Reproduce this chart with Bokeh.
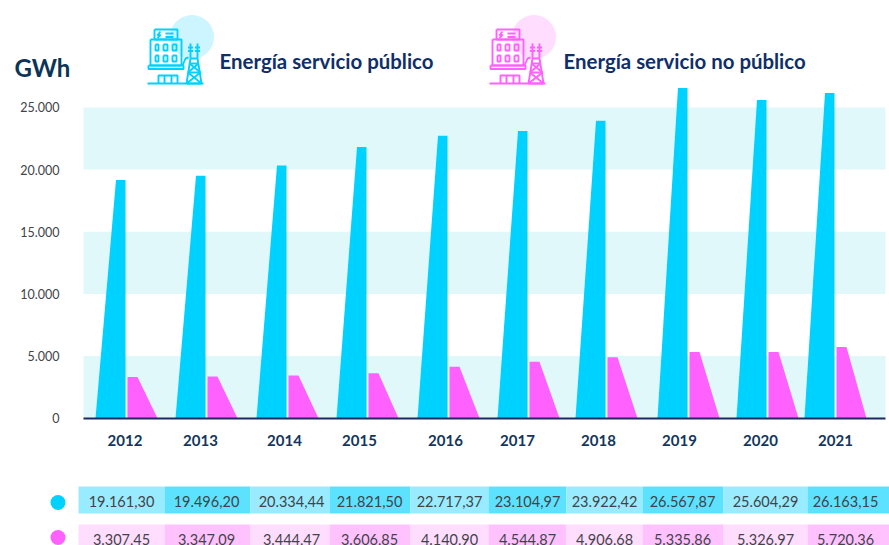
from bokeh.plotting import figure
from bokeh.embed import file_html
from bokeh.resources import INLINE
from bokeh.models import Range1d, LinearAxis, FixedTicker
from bokeh.core.properties import value

years = ["2012","2013","2014","2015","2016","2017","2018","2019","2020","2021"]
publico_txt = ["19.161,30","19.496,20","20.334,44","21.821,50","22.717,37","23.104,97","23.922,42","26.567,87","25.604,29","26.163,15"]
no_publico_txt = ["3.307,45","3.347,09","3.444,47","3.606,85","4.140,90","4.544,87","4.906,68","5.335,86","5.326,97","5.720,36"]
publico = [19161.30,19496.20,20334.44,21821.50,22717.37,23104.97,23922.42,26567.87,25604.29,26163.15]
no_publico = [3307.45,3347.09,3444.47,3606.85,4140.90,4544.87,4906.68,5335.86,5326.97,5720.36]
y_ticks = [0,5000,10000,15000,20000,25000]
y_labels = ["0","5.000","10.000","15.000","20.000","25.000"]

# layout (page pixels)
bar_split = [126,206,287,367,448,528,606,688,767,835]
label_x = [124.5,200,284,359,445,517,598,679,760,835]
cell_edges = [78,164,250,329,410,488,566,642,723,807,889]
cell_text_x = [121,206,291,369,449,527,604,682,765,845]

BLUE="#00D2FF"; PINK="#FF61FF"; BAND="#E1F8FB"; NAVY="#0F2F6B"; GREY="#3F4448"
FONT="Lato"

W,H=889,545
Y0=417.7; K=0.01243
p = figure(width=W,height=H,output_backend="svg",toolbar_location=None,
           x_range=Range1d(0,889),
           y_range=Range1d((Y0-545)/K,(Y0-0)/K),
           min_border=0,min_border_left=0,min_border_right=0,min_border_top=0,min_border_bottom=0,
           x_axis_type=None,y_axis_type=None,outline_line_color=None)
p.xgrid.visible=False; p.ygrid.visible=False
p.extra_y_ranges={"px":Range1d(545,0)}

# bands
p.quad(left=83,right=885,bottom=y_ticks[0],top=y_ticks[1],fill_color=BAND,line_color=None)
p.quad(left=83,right=885,bottom=y_ticks[2],top=y_ticks[3],fill_color=BAND,line_color=None)
p.quad(left=83,right=885,bottom=y_ticks[4],top=y_ticks[5],fill_color=BAND,line_color=None)

# bars (trapezoids)
bx=[[s-31,s-10.5,s-1,s-1] for s in bar_split]
by=[[0,v,v,0] for v in publico]
p.patches(bx,by,fill_color=BLUE,line_color=None)
px_=[[s+1,s+1,s+11,s+31] for s in bar_split]
py=[[0,v,v,0] for v in no_publico]
p.patches(px_,py,fill_color=PINK,line_color=None)

# axes
ya=LinearAxis(ticker=FixedTicker(ticks=y_ticks),major_label_overrides=dict(zip(y_ticks,y_labels)),
              axis_line_color=None,major_tick_line_color=None,minor_tick_line_color=None,
              major_label_text_font=FONT,major_label_text_font_size="12.5px",major_label_text_color=GREY,
              major_label_standoff=0,fixed_location=65)
p.add_layout(ya,"left")
xa=LinearAxis(ticker=FixedTicker(ticks=label_x),major_label_overrides=dict(zip(label_x,years)),
              axis_line_color="#1B2A63",axis_line_width=2,major_tick_line_color=None,minor_tick_line_color=None,
              major_label_text_font=FONT,major_label_text_font_style="bold",major_label_text_font_size="15px",
              major_label_text_color="#14365C",major_label_standoff=11,fixed_location=0,bounds=(83,885))
p.add_layout(xa,"below")

# table
rows=[(486,513,publico_txt,["#99EBFF","#5CE1FF"],500.5),(524,550,no_publico_txt,["#FFDDFF","#FFC2FF"],539)]
for top,bot,txt,cols,cy in rows:
    p.quad(left=cell_edges[:-1],right=cell_edges[1:],top=top,bottom=bot,y_range_name="px",
           fill_color=[cols[i%2] for i in range(10)],line_color=None)
    p.text(x=cell_text_x,y=[cy]*10,text=txt,y_range_name="px",text_align="center",text_baseline="middle",
           text_font=value(FONT),text_font_size="14.5px",text_color=GREY)
p.scatter(x=[57.5,57.5],y=[502,537],y_range_name="px",size=15,fill_color=[BLUE,PINK],line_color=None)

# icons
segs=[
 [[150,181,181,150,150],[39,39,65,65,39]],
 [[154,177,177,154,154],[29,29,39,39,29]],
 [[148,183,183,148,148],[65,65,68.5,68.5,65]],
 [[147,203],[83,83]],
 [[158,158,177,177],[83,75,75,83]],
 [[164,164],[75,83]],[[171,171],[75,83]],
 [[165,173],[33,33]],[[165,173],[36.5,36.5]],
 [[160,157,160,157],[31,34.5,34.5,37.5]],
 [[155,155,158,158,155],[44,50,50,44,44]],[[163,163,167,167,163],[44,50,50,44,44]],[[172,172,176,176,172],[44,50,50,44,44]],
 [[155,155,158,158,155],[55,61,61,55,55]],[[163,163,167,167,163],[55,61,61,55,55]],[[172,172,176,176,172],[55,61,61,55,55]],
 [[186,190,190,186],[83,58,58,83]],
 [[201,197,197,201],[83,58,58,83]],
 [[190,197],[58,58]],[[189,198],[63,63]],[[187.5,200],[72,72]],[[186,201],[83,83]],
 [[189,200],[63,72]],[[198,187.5],[63,72]],[[187.5,201],[72,83]],[[200,186],[72,83]],
 [[190,190],[58,43]],[[197,197],[58,43]],
 [[187.5,192.5],[47,47]],[[194.5,199.5],[47,47]],[[187.5,192.5],[50.5,50.5]],[[194.5,199.5],[50.5,50.5]],
 [[182,185,188],[65,58,57]],
]
for dx,circ,col in [(0,"#CCF5FF",BLUE),(342,"#FFDDFF",PINK)]:
    p.circle(x=[191.5+dx],y=[36.5],radius=22,y_range_name="px",fill_color=circ,line_color=None)
    p.multi_line([[x+dx for x in s[0]] for s in segs],[s[1] for s in segs],y_range_name="px",line_color=col,line_width=1.9)

# titles
p.text(x=[219,563],y=[60,60],text=["Energía servicio público","Energía servicio no público"],y_range_name="px",
       text_baseline="middle",text_font=value(FONT),text_font_style="bold",text_font_size="20.4px",text_color=NAVY)
p.text(x=[14,],y=[67],text=["GWh"],y_range_name="px",text_baseline="middle",text_font=value(FONT),
       text_font_style="bold",text_font_size="24px",text_color="#0B3558")

open("out.html","w").write(file_html(p,INLINE))
